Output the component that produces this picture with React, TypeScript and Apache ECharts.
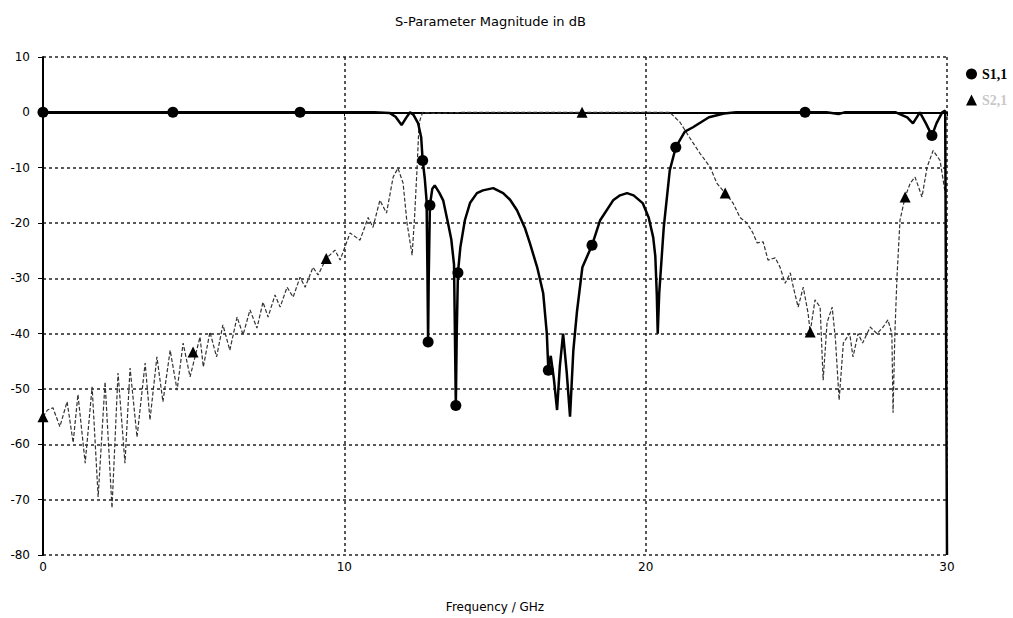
import React, { useEffect, useRef } from 'react';
import * as echarts from 'echarts';

const chartTitle = 'S-Parameter Magnitude in dB';
const xAxisTitle = 'Frequency / GHz';
const xMin = 0, xMax = 30, xStep = 10;
const yMin = -80, yMax = 10, yStep = 10;

const s11Freq = [0, 2, 4, 6, 8, 10, 11, 11.5, 11.7, 11.9, 12.05, 12.18, 12.3, 12.45, 12.55, 12.6, 12.67, 12.73, 12.76, 12.78, 12.8, 12.84, 12.92, 13.0, 13.15, 13.28, 13.44, 13.55, 13.64, 13.67, 13.7, 13.73, 13.77, 13.85, 14.0, 14.17, 14.4, 14.6, 14.94, 15.27, 15.5, 15.73, 16.0, 16.16, 16.4, 16.6, 16.72, 16.77, 16.85, 16.95, 17.06, 17.15, 17.26, 17.38, 17.49, 17.6, 17.72, 17.9, 18.22, 18.49, 18.92, 19.15, 19.38, 19.6, 19.9, 20.1, 20.25, 20.32, 20.37, 20.4, 20.45, 20.6, 20.8, 21.0, 21.3, 21.57, 22.1, 22.6, 23, 24, 25, 26, 26.4, 26.6, 27, 28, 28.3, 28.68, 28.87, 29.1, 29.3, 29.5, 29.65, 29.84, 29.94, 30];
const s11Db = [0, 0, 0, 0, 0, 0, 0, -0.1, -0.8, -2.3, -1.0, 0, -0.5, -2.0, -4.5, -8.7, -12, -16, -30, -41.5, -30, -16.8, -13.8, -13.2, -14.5, -15.9, -20, -23, -27.5, -40, -53, -40, -29, -24.4, -19.5, -16.4, -14.6, -14.1, -13.7, -14.6, -15.8, -17.7, -21, -23.7, -28, -32.7, -40, -46.6, -44, -48, -53.8, -46, -40, -47, -55, -43, -36, -28, -24, -19.5, -15.9, -15, -14.6, -15, -16.4, -19, -22.6, -26, -33, -40, -32.7, -20.8, -10.5, -6.3, -3.5, -2.7, -0.9, -0.2, 0, 0, 0, 0, -0.3, 0, 0, 0, 0, -0.9, -2.0, 0, -2.0, -4.2, -2.0, 0, 0.3, -80];

const s11MarkFreq = [0, 4.31, 8.53, 12.6, 12.78, 12.84, 13.7, 13.77, 16.77, 18.22, 21.0, 25.29, 29.5];
const s11MarkDb = [0, 0, 0, -8.7, -41.5, -16.8, -53, -29, -46.6, -24, -6.3, 0, -4.2];

const s21Freq = [0, 0.15, 0.33, 0.56, 0.8, 1.0, 1.16, 1.4, 1.63, 1.83, 2.06, 2.29, 2.49, 2.72, 2.89, 3.12, 3.39, 3.55, 3.78, 3.98, 4.22, 4.45, 4.65, 4.88, 5.21, 5.32, 5.54, 5.76, 5.97, 6.2, 6.44, 6.64, 6.87, 7.1, 7.3, 7.47, 7.7, 7.87, 8.1, 8.3, 8.53, 8.7, 8.96, 9.13, 9.4, 9.69, 9.86, 10.19, 10.52, 10.79, 10.95, 11.18, 11.4, 11.62, 11.78, 11.95, 12.08, 12.25, 12.33, 12.41, 12.47, 12.51, 12.6, 13, 14, 15, 16, 17, 18, 19, 20, 20.5, 20.8, 21.14, 21.45, 21.8, 22.14, 22.36, 22.64, 22.9, 23.13, 23.36, 23.56, 23.7, 23.9, 24.06, 24.3, 24.46, 24.63, 24.8, 24.9, 25.06, 25.23, 25.39, 25.46, 25.62, 25.79, 25.89, 26.02, 26.19, 26.3, 26.42, 26.56, 26.77, 26.88, 27.05, 27.2, 27.45, 27.68, 27.88, 28.04, 28.17, 28.21, 28.27, 28.34, 28.44, 28.61, 28.78, 28.94, 29.17, 29.34, 29.54, 29.77, 29.94];
const s21Db = [-55, -53.8, -53.4, -56.8, -52.3, -59.7, -51, -63.4, -49.6, -69.5, -48.7, -71.5, -47.1, -63.4, -46.2, -58.7, -45.3, -55.6, -44.2, -52.3, -43, -50.2, -41.7, -47.8, -40.6, -46, -39.7, -44.2, -38.4, -43, -37, -40.2, -35.7, -39, -34.3, -37, -33, -35.2, -31.6, -33.4, -29.8, -31.6, -28, -29.4, -26.4, -24.9, -26.7, -21.8, -23.1, -19, -20.8, -15.9, -18.2, -11.7, -10.1, -12.8, -20, -25.8, -19, -10.5, -3.2, -1.4, 0, -0.2, 0, 0, 0, 0, 0, 0, 0, 0, 0, -1.8, -4.5, -7.4, -9.9, -12.8, -14.6, -16.4, -19, -20, -21.8, -23.6, -23.4, -26.7, -26.3, -28, -30.9, -29, -31.6, -35.2, -31.6, -36.3, -39.7, -33.9, -35.2, -48.4, -38, -35.2, -41.2, -52, -41.7, -39.9, -44.2, -40, -41.7, -38.8, -40, -38.8, -37.5, -40, -54.3, -40, -29.8, -19.5, -15.3, -12.8, -11.7, -15.3, -9.9, -6.9, -8.7, -14.6];

const s21MarkFreq = [0, 4.98, 9.4, 17.89, 22.64, 25.46, 28.61];
const s21MarkDb = [-55, -43.3, -26.4, 0, -14.6, -39.7, -15.3];

const zip = (a: number[], b: number[]) => a.map((v, i) => [v, b[i]]);

export default function App() {
  const ref = useRef<HTMLDivElement>(null);
  useEffect(() => {
    if (!ref.current) return;
    const chart = echarts.init(ref.current, null, { renderer: 'svg' });
    const axisFont = { fontFamily: 'DejaVu Sans', fontSize: 12, color: '#000' };
    chart.setOption({
      animation: false,
      backgroundColor: '#fff',
      title: {
        text: chartTitle,
        left: 390,
        top: 10,
        textStyle: { fontFamily: 'DejaVu Sans', fontSize: 13, fontWeight: 'normal', color: '#000' },
      },
      legend: {
        orient: 'vertical',
        left: 961,
        top: 62,
        itemWidth: 11,
        itemHeight: 11,
        itemGap: 12,
        data: [
          { name: 'S1,1', icon: 'circle', itemStyle: { color: '#000', opacity: 1 }, textStyle: { fontFamily: 'Liberation Serif', fontWeight: 'bold', fontSize: 14, color: '#000' } },
          { name: 'S2,1', icon: 'triangle', itemStyle: { color: '#000', opacity: 1 }, textStyle: { fontFamily: 'Liberation Serif', fontWeight: 'bold', fontSize: 14, color: '#c8c8c8' } },
        ],
      },
      grid: { left: 43, right: 66, top: 57, bottom: 62 },
      xAxis: {
        type: 'value',
        min: xMin,
        max: xMax,
        interval: xStep,
        name: xAxisTitle,
        nameLocation: 'middle',
        nameGap: 46,
        nameTextStyle: axisFont,
        axisLine: { lineStyle: { color: '#000', width: 2 } },
        axisTick: { show: true, length: 4, lineStyle: { color: '#000' } },
        axisLabel: { ...axisFont, margin: 6 },
        splitLine: { show: true, lineStyle: { color: '#222', width: 1.5, type: [3, 3] } },
      },
      yAxis: {
        type: 'value',
        min: yMin,
        max: yMax,
        interval: yStep,
        axisLine: { show: true, lineStyle: { color: '#000', width: 2 } },
        axisTick: { show: true, length: 5, lineStyle: { color: '#000' } },
        axisLabel: { ...axisFont, margin: 13 },
        splitLine: { show: true, lineStyle: { color: '#222', width: 1.5, type: [3, 3] } },
      },
      series: [
        {
          name: 'S2,1',
          type: 'line',
          data: zip(s21Freq, s21Db),
          symbol: 'none',
          lineStyle: { color: '#333', width: 1.2, type: [4, 2] },
          itemStyle: { color: '#000' },
          z: 2,
        },
        {
          name: 'S1,1',
          type: 'line',
          data: zip(s11Freq, s11Db),
          symbol: 'none',
          lineStyle: { color: '#000', width: 2.5 },
          itemStyle: { color: '#000' },
          z: 3,
        },
        {
          name: 'S2,1',
          type: 'scatter',
          data: zip(s21MarkFreq, s21MarkDb),
          symbol: 'triangle',
          symbolSize: 11,
          itemStyle: { color: '#000', opacity: 1 },
          clip: false,
          z: 4,
        },
        {
          name: 'S1,1',
          type: 'scatter',
          data: zip(s11MarkFreq, s11MarkDb),
          symbol: 'circle',
          symbolSize: 11,
          itemStyle: { color: '#000', opacity: 1 },
          clip: false,
          z: 5,
        },
      ],
    });
    return () => chart.dispose();
  }, []);
  return <div ref={ref} style={{ position: 'fixed', left: 0, top: 0, width: 1013, height: 618, background: '#fff' }} />;
}
